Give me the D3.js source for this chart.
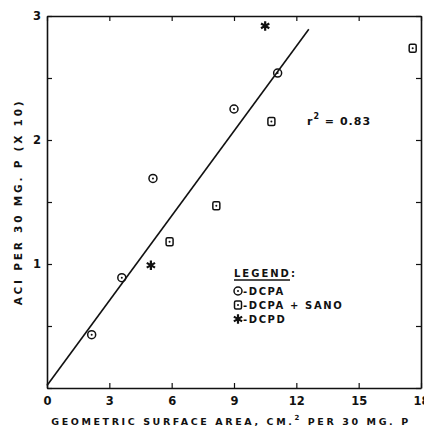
<!DOCTYPE html>
<html>
<head>
<meta charset="utf-8">
<script src="https://cdn.jsdelivr.net/npm/d3@7"></script>
<style>
    body { margin: 0; background: #fff; }
    #chart { width: 424px; height: 428px; }
    text { font-family: "DejaVu Sans", sans-serif; font-weight: bold; fill: #111; }
</style>
</head>
<body>
<div id="chart"></div>
<script>
//Datos
let dcpa_x = [2.15, 3.6, 5.1, 9.0, 11.1];
let dcpa_y = [0.43, 0.89, 1.69, 2.25, 2.54];
let sano_x = [5.9, 8.15, 10.8, 17.6];
let sano_y = [1.18, 1.47, 2.15, 2.74];
let dcpd_x = [5.0, 10.5];
let dcpd_y = [0.99, 2.92];
let fit_x = [0, 12.6];
let fit_slope = 0.228, fit_intercept = 0.02;
let x_ticks = [0, 3, 6, 9, 12, 15, 18];
let y_ticks = [0, 0.5, 1, 1.5, 2, 2.5, 3];
let legend_items = ['-DCPA', '-DCPA + SANO', '-DCPD'];

let ink = '#111';

function getChart() {
    let chartBlock = d3.select('#chart');
    let margin = {top: 16, right: 3, bottom: 40, left: 47};
    let width = 424 - margin.left - margin.right,
        height = 428 - margin.top - margin.bottom;

    let svg = chartBlock.append('svg')
        .attr('width', 424)
        .attr('height', 428);
    let chart = svg.append('g')
        .attr('transform', 'translate(' + margin.left + ',' + margin.top + ')');

    let x = d3.scaleLinear().domain([0, 18]).range([0, width]);
    let y = d3.scaleLinear().domain([0, 3]).range([height, 0]);

    //Ejes (ticks hacia dentro)
    let styleAxis = function(g) {
        g.select('.domain').attr('stroke', ink).attr('stroke-width', 1.6);
        g.selectAll('.tick line').attr('stroke', ink).attr('stroke-width', 1.2);
        g.selectAll('.tick text').style('font-size', '11.5px').attr('fill', ink);
    };

    chart.append('g')
        .attr('transform', 'translate(0,' + height + ')')
        .call(d3.axisBottom(x).tickValues(x_ticks).tickSizeInner(-5).tickSizeOuter(0).tickPadding(9))
        .call(styleAxis);

    chart.append('g')
        .call(d3.axisTop(x).tickValues(x_ticks).tickSizeInner(-5).tickSizeOuter(0).tickFormat(''))
        .call(styleAxis);

    chart.append('g')
        .call(d3.axisLeft(y).tickValues(y_ticks).tickSizeInner(-5).tickSizeOuter(0).tickPadding(6)
            .tickFormat(function(d) { return (d > 0 && d % 1 === 0) ? d : ''; }))
        .call(styleAxis);

    chart.append('g')
        .attr('transform', 'translate(' + width + ',0)')
        .call(d3.axisRight(y).tickValues(y_ticks).tickSizeInner(-5).tickSizeOuter(0).tickFormat(''))
        .call(styleAxis);

    //Recta de regresión
    chart.append('path')
        .datum(fit_x)
        .attr('fill', 'none')
        .attr('stroke', ink)
        .attr('stroke-width', 1.6)
        .attr('d', d3.line()
            .x(function(d) { return x(d); })
            .y(function(d) { return y(fit_intercept + fit_slope * d); }));

    //Marcadores
    function drawCircle(g, cx, cy) {
        g.append('circle').attr('cx', cx).attr('cy', cy).attr('r', 4)
            .attr('fill', 'none').attr('stroke', ink).attr('stroke-width', 1.5);
        g.append('circle').attr('cx', cx).attr('cy', cy).attr('r', 1).attr('fill', ink);
    }
    function drawSquare(g, cx, cy) {
        g.append('rect').attr('x', cx - 3.5).attr('y', cy - 4).attr('width', 7).attr('height', 8)
            .attr('rx', 1.5).attr('fill', 'none').attr('stroke', ink).attr('stroke-width', 1.5);
        g.append('circle').attr('cx', cx).attr('cy', cy).attr('r', 1).attr('fill', ink);
    }
    function drawStar(g, cx, cy) {
        g.append('path')
            .attr('transform', 'translate(' + cx + ',' + cy + ')')
            .attr('d', d3.symbol().type(d3.symbolAsterisk).size(64)())
            .attr('fill', 'none').attr('stroke', ink).attr('stroke-width', 2.2);
    }

    let points = chart.append('g');
    dcpa_x.forEach(function(d, i) { drawCircle(points, x(d), y(dcpa_y[i])); });
    sano_x.forEach(function(d, i) { drawSquare(points, x(d), y(sano_y[i])); });
    dcpd_x.forEach(function(d, i) { drawStar(points, x(d), y(dcpd_y[i])); });

    //r cuadrado
    let r2 = svg.append('text')
        .attr('x', 307)
        .attr('y', 125)
        .style('font-size', '11px')
        .style('letter-spacing', '1px');
    r2.append('tspan').text('r');
    r2.append('tspan').attr('dy', -6).style('font-size', '8px').text('2');
    r2.append('tspan').attr('dy', 6).text(' = 0.83');

    //Leyenda
    let legend = svg.append('g').attr('transform', 'translate(232,0)');
    legend.append('text')
        .attr('x', 2).attr('y', 277)
        .style('font-size', '10px')
        .style('letter-spacing', '2px')
        .text('LEGEND:');
    legend.append('line')
        .attr('x1', 2).attr('x2', 58).attr('y1', 280).attr('y2', 280)
        .attr('stroke', ink).attr('stroke-width', 1.3);
    let drawers = [drawCircle, drawSquare, drawStar];
    legend_items.forEach(function(d, i) {
        let yy = 291 + i * 14;
        drawers[i](legend, 6, yy);
        legend.append('text')
            .attr('x', 11).attr('y', yy + 4)
            .style('font-size', '10px')
            .style('letter-spacing', '1.6px')
            .text(d);
    });

    //Títulos de ejes
    let xt = svg.append('text')
        .attr('x', 231).attr('y', 425)
        .attr('text-anchor', 'middle')
        .style('font-size', '9.5px')
        .style('letter-spacing', '2.6px');
    xt.append('tspan').text('GEOMETRIC SURFACE AREA, CM.');
    xt.append('tspan').attr('dy', -5).style('font-size', '7px').text('2');
    xt.append('tspan').attr('dy', 5).text(' PER 30 MG. P');

    svg.append('text')
        .attr('transform', 'translate(22,202) rotate(-90)')
        .attr('text-anchor', 'middle')
        .style('font-size', '10.5px')
        .style('letter-spacing', '2.8px')
        .text('ACI PER 30 MG. P (X 10)');
}

getChart();
</script>
</body>
</html>
